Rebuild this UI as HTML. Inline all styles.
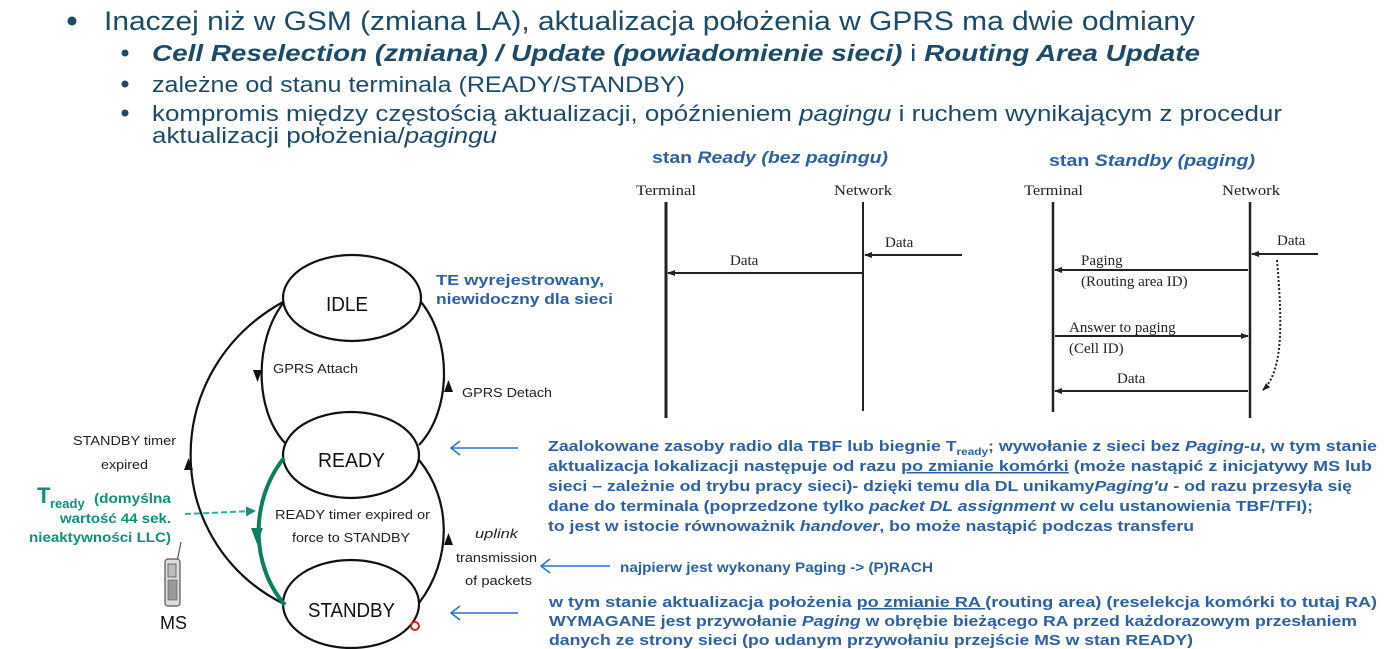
<!DOCTYPE html>
<html><head><meta charset="utf-8"><style>
html,body{margin:0;padding:0;background:#fff;}
svg{display:block;}
.h{font-family:"Liberation Sans",sans-serif;fill:#1d4a68;}
.b{font-family:"Liberation Sans",sans-serif;fill:#2e60a2;font-weight:bold;}
.s{font-family:"Liberation Serif",serif;fill:#222;font-size:15px;}
.d{font-family:"Liberation Sans",sans-serif;fill:#222;font-size:13px;}
.t{font-family:"Liberation Sans",sans-serif;fill:#10907a;font-weight:bold;}
</style></head><body>
<svg width="1399" height="649" viewBox="0 0 1399 649" xmlns="http://www.w3.org/2000/svg">
<defs>
<marker id="ah" markerWidth="8" markerHeight="8" refX="7" refY="4" orient="auto" markerUnits="userSpaceOnUse"><path d="M0,1 L8,4 L0,7 z" fill="#222"/></marker>
<marker id="at" markerWidth="10" markerHeight="10" refX="8" refY="5" orient="auto" markerUnits="userSpaceOnUse"><path d="M0,0 L10,5 L0,10 z" fill="#13907a"/></marker>
</defs>

<circle cx="72" cy="21" r="4.5" fill="#1d4a68"/>
<text class="h" x="104" y="30" font-size="27" textLength="1091" lengthAdjust="spacingAndGlyphs">Inaczej niż w GSM (zmiana LA), aktualizacja położenia w GPRS ma dwie odmiany</text>
<circle cx="125" cy="53" r="3.5" fill="#1d4a68"/>
<text class="h" x="152" y="61" font-size="23" textLength="1048" lengthAdjust="spacingAndGlyphs"><tspan font-weight="bold" font-style="italic">Cell Reselection (zmiana) / Update (powiadomienie sieci)</tspan> i <tspan font-weight="bold" font-style="italic">Routing Area Update</tspan></text>
<circle cx="125" cy="84" r="3.5" fill="#1d4a68"/>
<text class="h" x="152" y="92" font-size="22" textLength="533" lengthAdjust="spacingAndGlyphs">zależne od stanu terminala (READY/STANDBY)</text>
<circle cx="125" cy="113" r="3.5" fill="#1d4a68"/>
<text class="h" x="152" y="121" font-size="22" textLength="1130" lengthAdjust="spacingAndGlyphs">kompromis między częstością aktualizacji, opóźnieniem <tspan font-style="italic">pagingu</tspan> i  ruchem wynikającym z procedur</text>
<text class="h" x="152" y="143" font-size="22" textLength="345" lengthAdjust="spacingAndGlyphs">aktualizacji położenia/<tspan font-style="italic">pagingu</tspan></text>

<text class="b" x="652" y="163" font-size="17" textLength="236" lengthAdjust="spacingAndGlyphs">stan <tspan font-style="italic">Ready (bez pagingu)</tspan></text>
<text class="b" x="1049" y="166" font-size="17" textLength="206" lengthAdjust="spacingAndGlyphs">stan <tspan font-style="italic">Standby (paging)</tspan></text>

<text class="s" x="636" y="195" textLength="60" lengthAdjust="spacingAndGlyphs">Terminal</text>
<text class="s" x="834" y="195" textLength="58" lengthAdjust="spacingAndGlyphs">Network</text>
<line x1="666" y1="202" x2="666" y2="418" stroke="#222" stroke-width="3"/>
<line x1="863" y1="202" x2="863" y2="411" stroke="#222" stroke-width="2"/>
<line x1="962" y1="255" x2="865" y2="255" stroke="#222" stroke-width="2" marker-end="url(#ah)"/>
<text class="s" x="885" y="247">Data</text>
<line x1="862" y1="273" x2="668" y2="273" stroke="#222" stroke-width="2" marker-end="url(#ah)"/>
<text class="s" x="730" y="265">Data</text>

<text class="s" x="1024" y="195" textLength="59" lengthAdjust="spacingAndGlyphs">Terminal</text>
<text class="s" x="1222" y="195" textLength="58" lengthAdjust="spacingAndGlyphs">Network</text>
<line x1="1053" y1="202" x2="1053" y2="412" stroke="#222" stroke-width="2.5"/>
<line x1="1250" y1="202" x2="1250" y2="418" stroke="#222" stroke-width="2.5"/>
<line x1="1318" y1="254" x2="1252" y2="254" stroke="#222" stroke-width="2" marker-end="url(#ah)"/>
<text class="s" x="1277" y="245">Data</text>
<line x1="1248" y1="270" x2="1055" y2="270" stroke="#222" stroke-width="2" marker-end="url(#ah)"/>
<text class="s" x="1081" y="265">Paging</text>
<text class="s" x="1081" y="286">(Routing area ID)</text>
<line x1="1055" y1="336" x2="1248" y2="336" stroke="#222" stroke-width="2" marker-end="url(#ah)"/>
<text class="s" x="1069" y="332">Answer to paging</text>
<text class="s" x="1069" y="353">(Cell ID)</text>
<line x1="1248" y1="391" x2="1055" y2="391" stroke="#222" stroke-width="2" marker-end="url(#ah)"/>
<text class="s" x="1117" y="383">Data</text>
<path d="M1277,260 C1282,320 1284,370 1263,390" fill="none" stroke="#222" stroke-width="2" stroke-dasharray="2,2" marker-end="url(#ah)"/>

<g fill="none" stroke="#111" stroke-width="2.2">
<ellipse cx="352" cy="298" rx="69" ry="43"/>
<ellipse cx="351" cy="455" rx="68" ry="43"/>
<ellipse cx="351" cy="604" rx="68" ry="44"/>
<path d="M284,302 C254,340 254,410 285,443"/>
<path d="M419,445 C452,410 452,340 421,302"/>
<path d="M282,603 C160,540 160,370 283,302"/>
<path d="M419,603 C452,560 452,500 419,460"/>
</g>
<path d="M284,458 C250,500 250,565 285,605" fill="none" stroke="#0a8060" stroke-width="4"/>
<path d="M253,370 L262,370 L257.5,382 z" fill="#111"/>
<path d="M444,392 L453,392 L448.5,380 z" fill="#111"/>
<path d="M184,470 L193,470 L188.5,458 z" fill="#111"/>
<path d="M444,545 L453,545 L448.5,533 z" fill="#111"/>
<path d="M251,528 L263,528 L257,544 z" fill="#0a8060"/>

<text class="h" x="326" y="311" font-size="20" style="fill:#111" textLength="42" lengthAdjust="spacingAndGlyphs">IDLE</text>
<text class="h" x="318" y="467" font-size="20" style="fill:#111" textLength="67" lengthAdjust="spacingAndGlyphs">READY</text>
<text class="h" x="308" y="617" font-size="20" style="fill:#111" textLength="87" lengthAdjust="spacingAndGlyphs">STANDBY</text>
<text class="d" x="273" y="373" textLength="85" lengthAdjust="spacingAndGlyphs">GPRS Attach</text>
<text class="d" x="462" y="397" textLength="90" lengthAdjust="spacingAndGlyphs">GPRS Detach</text>
<text class="d" x="73" y="445" textLength="103" lengthAdjust="spacingAndGlyphs">STANDBY timer</text>
<text class="d" x="101" y="469" textLength="47" lengthAdjust="spacingAndGlyphs">expired</text>
<text class="d" x="275" y="519" textLength="155" lengthAdjust="spacingAndGlyphs">READY timer expired or</text>
<text class="d" x="292" y="542" textLength="118" lengthAdjust="spacingAndGlyphs">force to STANDBY</text>
<text class="d" x="475" y="538" font-style="italic" font-size="14" textLength="43" lengthAdjust="spacingAndGlyphs">uplink</text>
<text class="d" x="456" y="562" textLength="81" lengthAdjust="spacingAndGlyphs">transmission</text>
<text class="d" x="465" y="585" textLength="67" lengthAdjust="spacingAndGlyphs">of packets</text>

<text class="b" x="436" y="285" font-size="15" textLength="168" lengthAdjust="spacingAndGlyphs">TE wyrejestrowany,</text>
<text class="b" x="436" y="304" font-size="15" textLength="177" lengthAdjust="spacingAndGlyphs">niewidoczny dla sieci</text>

<text class="t" x="37" y="503" font-size="22">T</text>
<text class="t" x="50" y="508" font-size="13">ready</text>
<text class="t" x="94" y="503" font-size="14" textLength="77" lengthAdjust="spacingAndGlyphs">(domyślna</text>
<text class="t" x="60" y="523" font-size="14" textLength="111" lengthAdjust="spacingAndGlyphs">wartość 44 sek.</text>
<text class="t" x="29" y="542" font-size="14" textLength="142" lengthAdjust="spacingAndGlyphs">nieaktywności LLC)</text>
<line x1="185" y1="514" x2="254" y2="511" stroke="#22b8a0" stroke-width="2" stroke-dasharray="6,3" marker-end="url(#at)"/>

<line x1="181" y1="542" x2="177" y2="562" stroke="#555" stroke-width="1.2"/>
<rect x="165" y="559" width="15" height="47" rx="3" fill="#ddd" stroke="#555" stroke-width="1.2"/>
<rect x="168" y="564" width="8" height="13" fill="#bbb" stroke="#555" stroke-width="0.8"/>
<rect x="168" y="580" width="9" height="20" fill="#999" stroke="#555" stroke-width="0.6"/>
<text class="h" x="160" y="629" font-size="18" style="fill:#111">MS</text>

<g stroke="#2a6fd0" stroke-width="1.5" fill="none">
<line x1="518" y1="448" x2="451" y2="448"/><path d="M460,441 L451,448 L460,455"/>
<line x1="610" y1="566" x2="541" y2="566"/><path d="M550,559 L541,566 L550,573"/>
<line x1="518" y1="613" x2="451" y2="613"/><path d="M460,606 L451,613 L460,620"/>
</g>
<circle cx="415" cy="626" r="4" fill="none" stroke="#e02020" stroke-width="2"/>

<g class="b" font-size="15">
<text x="548" y="451" textLength="829" lengthAdjust="spacingAndGlyphs">Zaalokowane zasoby radio dla TBF lub biegnie T<tspan font-size="10" dy="4">ready</tspan><tspan dy="-4">; wywołanie z sieci bez </tspan><tspan font-style="italic">Paging-u</tspan>, w tym stanie</text>
<text x="548" y="471" textLength="824" lengthAdjust="spacingAndGlyphs">aktualizacja lokalizacji następuje od razu <tspan text-decoration="underline">po zmianie komórki</tspan> (może nastąpić z inicjatywy MS lub</text>
<text x="548" y="491" textLength="804" lengthAdjust="spacingAndGlyphs">sieci – zależnie od trybu pracy sieci)- dzięki temu dla DL unikamy<tspan font-style="italic">Paging'u</tspan> - od razu przesyła się</text>
<text x="548" y="511" textLength="765" lengthAdjust="spacingAndGlyphs">dane do terminala (poprzedzone tylko <tspan font-style="italic">packet DL assignment</tspan> w celu ustanowienia TBF/TFI);</text>
<text x="548" y="531" textLength="646" lengthAdjust="spacingAndGlyphs">to jest w istocie równoważnik <tspan font-style="italic">handover</tspan>, bo może nastąpić podczas transferu</text>
<text x="620" y="572" font-size="14" textLength="313" lengthAdjust="spacingAndGlyphs">najpierw jest wykonany Paging -&gt; (P)RACH</text>
<text x="549" y="607" textLength="828" lengthAdjust="spacingAndGlyphs">w tym stanie aktualizacja położenia <tspan text-decoration="underline">po zmianie RA </tspan>(routing area) (reselekcja komórki to tutaj RA)</text>
<text x="549" y="626" textLength="808" lengthAdjust="spacingAndGlyphs">WYMAGANE jest przywołanie <tspan font-style="italic">Paging</tspan> w obrębie bieżącego RA przed każdorazowym przesłaniem</text>
<text x="549" y="645" textLength="644" lengthAdjust="spacingAndGlyphs">danych ze strony sieci (po udanym przywołaniu przejście MS w stan READY)</text>
</g>
</svg>
</body></html>
